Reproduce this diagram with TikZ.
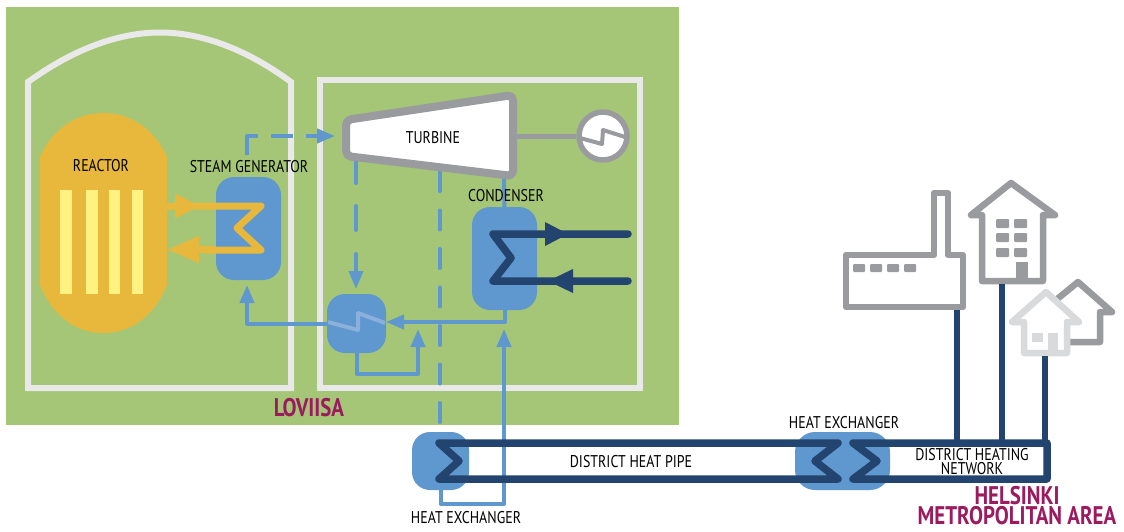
\documentclass[tikz,border=0pt]{standalone}
\usepackage{fontspec}
\setmainfont[FakeStretch=0.82]{PT Sans}
\usepackage{xcolor}
\usetikzlibrary{arrows.meta}
\definecolor{plantgreen}{HTML}{A5C676}
\definecolor{wallgrey}{HTML}{E9E9E9}
\definecolor{pipeblue}{HTML}{5F97CF}
\definecolor{coilblue}{HTML}{8AB0DB}
\definecolor{darkpipe}{HTML}{22446E}
\definecolor{reactorgold}{HTML}{E8B83C}
\definecolor{rodyellow}{HTML}{FFF280}
\definecolor{housegrey}{HTML}{999B9E}
\definecolor{lightgrey}{HTML}{D9DADB}
\definecolor{titlepurple}{HTML}{9B1B5E}

\begin{document}
\begin{tikzpicture}[x=1pt,y=-1pt,line join=round]
        \tikzstyle{wall}=[draw=wallgrey,line width=6pt,line join=miter]
        \tikzstyle{exchanger}=[fill=pipeblue,inner sep=0pt,rounded corners=18pt]
        \tikzstyle{lbl}=[inner sep=0pt,text=black,font=\fontsize{17}{14}\selectfont,align=center]
        \tikzstyle{title}=[inner sep=0pt,text=titlepurple,font=\fontsize{25.5}{20}\selectfont\bfseries,align=center]
        \tikzstyle{bluepipe}=[draw=pipeblue,line width=4pt]
        \tikzstyle{dashpipe}=[bluepipe,line cap=round]
        \tikzstyle{bluehead}=[-{Triangle[length=18pt,width=14pt]}]
        \tikzstyle{goldpipe}=[draw=reactorgold,line width=7pt]
        \tikzstyle{darkcoil}=[draw=darkpipe,line width=7.5pt,line cap=round]
        \tikzstyle{building}=[draw=housegrey,line width=6.5pt]
        \tikzstyle{lightbuilding}=[draw=lightgrey,line width=6.5pt,fill=white]
        \tikzstyle{feeder}=[draw=darkpipe,line width=6pt]
        \useasboundingbox (0,0) rectangle (1124,531);
        \fill[white] (0,0) rectangle (1124,531);
        \fill[plantgreen] (6,7) rectangle (679,425);
        \draw[wall] (28,388) -- (28,82) .. controls (75,48) and (120,32.5) .. (160,32.5)
                .. controls (200,32.5) and (245,48) .. (291,82) -- (291,388) -- cycle;
        \draw[wall] (320,80) rectangle (640,388);

        \fill[reactorgold] (40,157) .. controls (52,130) and (75,113) .. (103,113)
                .. controls (132,113) and (155,130) .. (167,157) -- (167,285)
                .. controls (155,315) and (132,333) .. (103,333)
                .. controls (75,333) and (52,315) .. (40,285) -- cycle;
        \foreach \x/\w in {60/12,86/12,109/11,132/11}
                \fill[rodyellow] (\x,190) rectangle ++(\w,104);

        \node[exchanger,minimum width=65pt,minimum height=103pt] (steamgen) at (248.5,228.5) {};
        \node[exchanger,minimum width=65pt,minimum height=103pt] (condenser) at (504.5,258.5) {};
        \node[exchanger,minimum width=59pt,minimum height=59pt] (heater) at (356.5,323.5) {};
        \node[exchanger,minimum width=57pt,minimum height=58pt] (hxplant) at (440.5,461) {};
        \node[exchanger,rounded corners=20pt,minimum width=95pt,minimum height=58pt] (hxcity) at (842.5,461) {};

        \coordinate (steamout) at (247,155);
        \coordinate (turbinein) at (335,136);
        \coordinate (turbinebleed) at (356,162);
        \coordinate (heaterin) at (356,289);
        \coordinate (turbinedrop) at (439.5,172);
        \coordinate (hxdrop) at (439.5,426);
        \coordinate (turbinebase) at (504,176);
        \coordinate (steamgenin) at (247,285);
        \coordinate (mergetip) at (418,329);
        \coordinate (condensertip) at (504,329);
        \coordinate (heaterright) at (386,322);
        \coordinate (reactorout) at (167,206);
        \coordinate (goldtip) at (200,206);
        \coordinate (goldback) at (167,249.5);

        \draw[bluepipe,bluehead,dash pattern=on 30pt off 13pt on 22pt off 13pt on 40pt] (steamout) |- (turbinein);
        \draw[dashpipe,bluehead,dash pattern=on 21pt off 23pt on 24pt off 24pt on 60pt] (turbinebleed) -- (heaterin);
        \draw[dashpipe,dash pattern=on 19pt off 19.5pt] (turbinedrop) -- (hxdrop);
        \draw[bluepipe] (turbinebase) -- (condenser.north);
        \draw[bluepipe,bluehead] (condenser.south) |- (heaterright);
        \draw[bluepipe,bluehead] (heater.west) -| (steamgenin);
        \draw[bluepipe,bluehead] (heater.south) |- (418,374) -- (mergetip);
        \draw[bluepipe,bluehead] (hxplant.south) |- (504,504) -- (condensertip);
        \draw[draw=coilblue,line width=4pt] (328,322) -- (358,330) -- (358,313) -- (385,323);

        \draw[goldpipe,-{Triangle[length=25pt,width=23pt]}] (reactorout) -- (goldtip);
        \draw[goldpipe,line cap=round] (190,206) -- (261,206) -- (237,228) -- (261,250) -- (205,250);
        \draw[goldpipe,-{Triangle[length=32pt,width=25pt]}] (215,249.5) -- (goldback);

        \draw[draw=housegrey,line width=8pt,fill=white,rounded corners=5pt]
                (346,120) -- (513,95) -- (513,176) -- (346,156) -- cycle;
        \node[draw=housegrey,line width=5.5pt,fill=white,circle,inner sep=0pt,minimum size=48pt] (generator) at (603,136) {};
        \coordinate (shaft) at (516,136);
        \draw[draw=housegrey,line width=5pt] (shaft) -- (generator);
        \draw[draw=housegrey,line width=4pt] (580,138) -- (602,144) -- (603,130) -- (625,137);

        \draw[darkcoil] (628,234) -- (493,234) -- (511,258) -- (493,281) -- (628,281);
        \path[fill=darkpipe] (545,222) -- (568,234) -- (545,246) -- cycle;
        \path[fill=darkpipe] (573,269) -- (548,281) -- (573,293) -- cycle;
        \draw[darkcoil] (838,443) -- (439,443) -- (459,461) -- (439,479) -- (838,479) -- (815,461) -- cycle;
        \draw[darkcoil] (853,443) -- (1047,443) -- (1047,479) -- (853,479) -- (877,461) -- cycle;

        \draw[building] (846,255) -- (934,255) -- (934,193) -- (948,193) -- (948,255) -- (963,255) -- (963,307) -- (846,307) -- cycle;
        \foreach \x in {853,870,887,904}
                \fill[housegrey,rounded corners=1pt] (\x,264) rectangle ++(12,8);

        \draw[building] (982,215) -- (971,215) -- (1011,183) -- (1055,215) -- (1043,215) -- (1043,281) -- (982,281) -- cycle;
        \foreach \x in {996,1014}
                \foreach \y in {219,233,248}
                        \fill[housegrey,rounded corners=1pt] (\x,\y) rectangle ++(13,9);
        \fill[housegrey] (1016,262) rectangle (1028,279);

        \draw[building] (1056,300) -- (1078,282) -- (1112,312) -- (1100,312) -- (1100,342) -- (1068,342);
        \draw[lightbuilding] (1024,322) -- (1012,322) -- (1046,292) -- (1079,322) -- (1067,322) -- (1067,353) -- (1024,353) -- cycle;
        \fill[lightgrey] (1032,333) rectangle (1043,342);
        \fill[lightgrey] (1048,333) rectangle (1058,352);

        \coordinate (factorybase) at (957,310);
        \coordinate (blockbase) at (1002,284);
        \coordinate (housebase) at (1045,356);
        \draw[feeder] (factorybase) -- (957,443);
        \draw[feeder] (blockbase) -- (1002,443);
        \draw[feeder] (housebase) -- (1045,443);

        \node[lbl] (reactor) at (101,166) {REACTOR};
        \node[lbl] (steamgenlbl) at (249,167) {STEAM GENERATOR};
        \node[lbl] (turbine) at (433,138) {TURBINE};
        \node[lbl] (condenserlbl) at (506,196) {CONDENSER};
        \node[lbl] (heatpipe) at (631,462) {DISTRICT HEAT PIPE};
        \node[lbl] (hxplantlbl) at (466,518) {HEAT EXCHANGER};
        \node[lbl] (hxcitylbl) at (844,423) {HEAT EXCHANGER};
        \node[lbl] (network) at (972,461.5) {DISTRICT HEATING\\NETWORK};
        \node[title] (loviisa) at (309,408) {LOVIISA};
        \node[title] (helsinki) at (1017,505.5) {HELSINKI\\METROPOLITAN AREA};
    \end{tikzpicture}
\end{document}
